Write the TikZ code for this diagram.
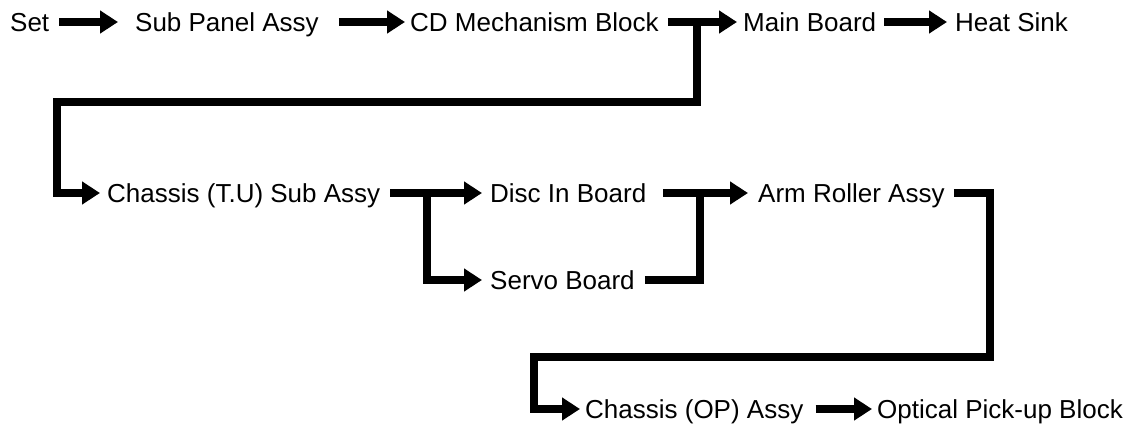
\documentclass[tikz,border=0pt]{standalone}
\usepackage{fontspec}
\setmainfont{Liberation Sans}
\usetikzlibrary{arrows.meta}
\begin{document}
\begin{tikzpicture}[x=1pt,y=1pt,
  lab/.style={inner sep=0pt, text height=18.6pt, text depth=0pt, anchor=west,
    font=\fontsize{26}{30}\selectfont},
  conn/.style={line width=8pt, line join=miter, line cap=butt,
    -{Triangle[length=18pt,width=22pt]}},
  plain/.style={line width=8pt, line join=miter, line cap=butt}]
\useasboundingbox (0,0) rectangle (1136,-426);
% row 1
\node[lab] (set)  at (10,-22)  {Set};
\node[lab] (sub)  at (135,-22) {Sub Panel Assy};
\node[lab] (cd)   at (410,-22) {CD Mechanism Block};
\node[lab] (main) at (743,-22) {Main Board};
\node[lab] (heat) at (955,-22) {Heat Sink};
% row 2
\node[lab] (tu)   at (107,-193) {Chassis (T.U) Sub Assy};
\node[lab] (disc) at (490,-193) {Disc In Board};
\node[lab] (arm)  at (758,-193) {Arm Roller Assy};
\node[lab] (servo) at (490,-280) {Servo Board};
% row 4
\node[lab] (op)   at (585,-409) {Chassis (OP) Assy};
\node[lab] (opt)  at (877,-409) {Optical Pick-up Block};
% junction points
\coordinate (j1) at (697,-22);
\coordinate (k1) at (57,-102);
\coordinate (j2) at (427,-193);
\coordinate (j3) at (700,-193);
\coordinate (j4) at (990,-193);
\coordinate (k4) at (534,-357);
% connectors
\draw[conn] ([xshift=10pt]set.east) -- ([xshift=-17pt]sub.west);
\draw[conn] ([xshift=20pt]sub.east) -- ([xshift=-5pt]cd.west);
\draw[conn] ([xshift=9pt]cd.east) -- ([xshift=-6pt]main.west);
\draw[conn] ([xshift=8pt]main.east) -- ([xshift=-8pt]heat.west);
\draw[conn] (j1) -- (j1 |- k1) -- (k1) |- ([xshift=-7pt]tu.west);
\draw[conn] ([xshift=10pt]tu.east) -- ([xshift=-8pt]disc.west);
\draw[conn] (j2) |- ([xshift=-8pt]servo.west);
\draw[conn] ([xshift=17pt]disc.east) -- ([xshift=-10pt]arm.west);
\draw[plain] ([xshift=10pt]servo.east) -| (j3);
\draw[conn] ([xshift=9pt]arm.east) -- (j4) -- (j4 |- k4) -- (k4) |- ([xshift=-5pt]op.west);
\draw[conn] ([xshift=12pt]op.east) -- ([xshift=-5pt]opt.west);
\end{tikzpicture}
\end{document}
